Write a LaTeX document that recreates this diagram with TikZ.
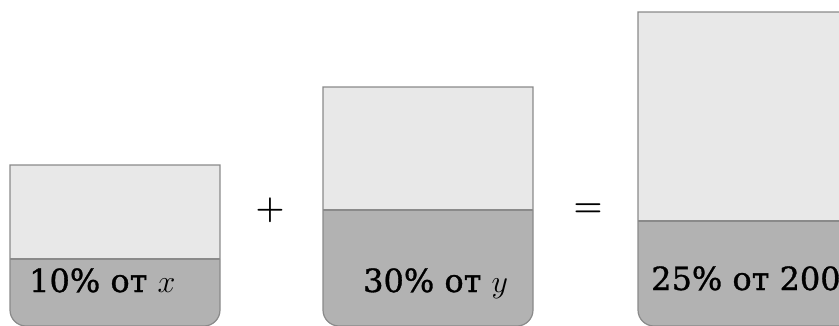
\RequirePackage{fix-cm}
\documentclass[tikz,border=0pt]{standalone}
\usepackage{fontspec}
\setmainfont{DejaVu Serif}[FakeBold=1.0]
\definecolor{upperfill}{RGB}{232,232,232}
\definecolor{lowerfill}{RGB}{178,178,178}
\definecolor{edge}{RGB}{138,138,138}
\tikzset{
  lbl/.style={anchor=base west, inner sep=0pt, font=\fontsize{32}{38}\selectfont, text=black},
  op/.style={inner sep=0pt, font=\fontsize{33}{40}\selectfont\boldmath, text=black},
  border/.style={draw=edge, line width=1.2pt}
}
\newcommand\drawjar[5]{%
  \fill[upperfill] (#1,#3) rectangle (#2,#4);
  \fill[lowerfill] (#1,#4) -- (#1,#5-16) arc(180:90:16) -- (#2-16,#5) arc(90:0:16) -- (#2,#4) -- cycle;
  \draw[border] (#1,#3) -- (#1,#5-16) arc(180:90:16) -- (#2-16,#5) arc(90:0:16) -- (#2,#3) -- cycle;
  \draw[border] (#1,#4) -- (#2,#4);
}
\begin{document}
\begin{tikzpicture}[x=1pt,y=-1pt]
\useasboundingbox (0,0) rectangle (839,325);
\drawjar{10}{220}{165}{259}{326}
\drawjar{323}{533}{87}{210}{326}
\drawjar{638}{870}{12}{221}{326}
\node[lbl] (t1) at (29,292) {10\% от $x$};
\node[lbl] (t2) at (363,292) {30\% от $y$};
\node[lbl] (t3) at (651,290) {25\% от 200};
\node[op] (plus) at (270,210) {$+$};
\node[op] (eq) at (588,210) {$=$};
\end{tikzpicture}
\end{document}
